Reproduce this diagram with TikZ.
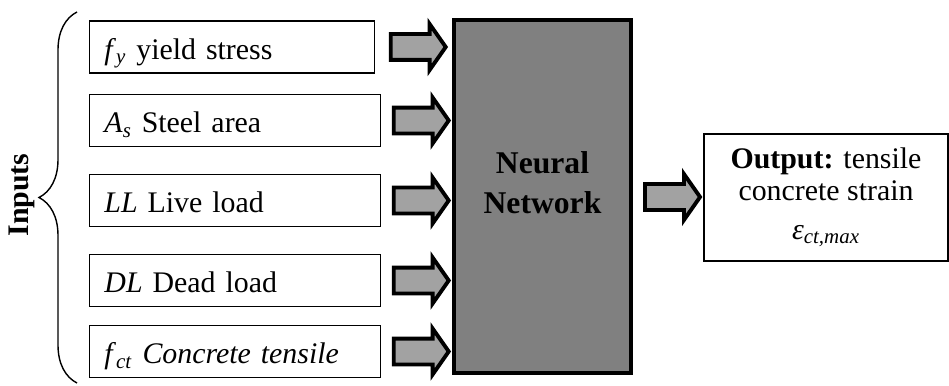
\documentclass[tikz,border=0pt]{standalone}
\usepackage{fontspec}
\setmainfont{Liberation Serif}
\usetikzlibrary{shapes.arrows,decorations.pathreplacing,calc}

\definecolor{netgray}{RGB}{128,128,128}
\definecolor{arrowgray}{RGB}{162,162,162}

\newcommand{\varsub}[2]{\textit{#1}\textsubscript{\textit{#2}}}

\tikzset{
    inbox/.style={draw, line width=1.1pt, anchor=west, minimum height=1.04cm,
        text width=5.22cm, inner xsep=0.3cm, inner ysep=1pt, align=left,
        text height=17pt, text depth=3pt},
    fatarrow/.style={single arrow, draw, line width=2.2pt, fill=arrowgray,
        line join=miter, inner sep=0pt, inner ysep=0.22cm, minimum height=1.1cm,
        single arrow head extend=0.2cm, single arrow tip angle=110}
}

\begin{document}
\begin{tikzpicture}[font=\fontsize{17}{18}\selectfont]
            \useasboundingbox (0,0) rectangle (18.98,7.7);

            % Inputs
            \node[inbox, text width=5.1cm] (in1) at (1.77,6.76) {\varsub{f}{y} yield stress};
            \node[inbox] (in2) at (1.77,5.29) {\varsub{A}{s} Steel area};
            \node[inbox] (in3) at (1.77,3.69) {\textit{LL} Live load};
            \node[inbox] (in4) at (1.77,2.09) {\textit{DL} Dead load};
            \node[inbox] (in5) at (1.77,0.67) {\varsub{f}{ct} \textit{Concrete tensile}};

            % Brace
            \draw[line width=0.8pt, decorate, decoration={brace, amplitude=0.76cm}]
                (1.54,0.04) -- (1.54,7.46);
            \node[rotate=90, font=\fontsize{17}{18}\selectfont\bfseries] (inlabel) at (0.44,3.8) {Inputs};

            % Neural network
            \node[draw, line width=2.3pt, fill=netgray, minimum width=3.54cm,
                minimum height=7.06cm] (nn) at (10.85,3.77) {};
            \node[align=center, font=\fontsize{18}{18}\selectfont\bfseries] (nntext)
                at ($(nn.center)+(0,0.28)$) {Neural\\[5pt]Network};

            % Output
            \node[draw, line width=1.1pt, minimum width=4.88cm, minimum height=2.54cm,
                align=center] (out) at (16.52,3.75)
                {\textbf{Output:} tensile\\concrete strain\\[0.14cm]\varsub{ε}{ct,max}};

            % Arrows
            \foreach \i in {1,...,5}
                \node[fatarrow] (ar\i) at ($(in\i.east)!0.5!(nn.west |- in\i)$) {};
            \node[fatarrow] (ar6) at ($(nn.east)!0.5!(out.west)$) {};

\end{tikzpicture}
\end{document}
